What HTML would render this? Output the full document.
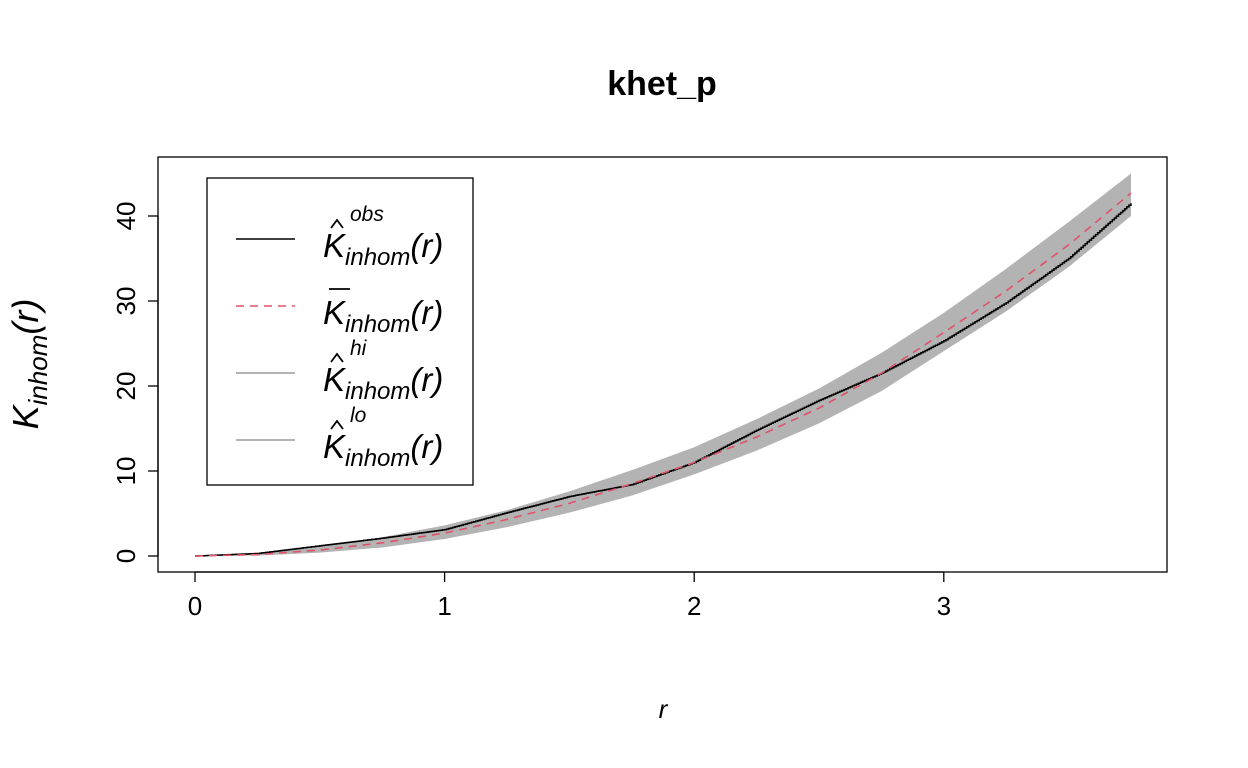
<!DOCTYPE html>
<html><head><meta charset="utf-8"><style>
body{margin:0;background:#fff;}
svg{display:block;font-family:"Liberation Sans",Arial,sans-serif;}
</style></head><body>
<svg id="chart" width="1248" height="768">
<text x="662" y="95" text-anchor="middle" font-size="34" font-weight="bold">khet_p</text>
<g id="plot"></g>
<rect x="158" y="157" width="1009" height="415" fill="none" stroke="#000" stroke-width="1.3"/>
<g id="axes"></g>
<text x="663" y="718" font-size="26" font-style="italic" text-anchor="middle">r</text>
<g transform="translate(38,364) rotate(-90)">
<text x="0" y="0" text-anchor="middle" font-size="36" font-style="italic">K<tspan font-size="26" dy="9">inhom</tspan><tspan dy="-9">(r)</tspan></text>
</g>
<g>
<rect x="207" y="178" width="266" height="307" fill="#fff" stroke="#000" stroke-width="1.3"/>
<line x1="236" y1="239" x2="295" y2="239" stroke="#000" stroke-width="1.5"/>
<line x1="236" y1="306" x2="295" y2="306" stroke="#DF536B" stroke-width="1.5" stroke-dasharray="8,6"/>
<line x1="236" y1="373" x2="295" y2="373" stroke="#b3b3b3" stroke-width="2"/>
<line x1="236" y1="440" x2="295" y2="440" stroke="#b3b3b3" stroke-width="2"/>
<g font-size="33" font-style="italic">
<text x="323" y="257">K<tspan font-size="24" dy="8">inhom</tspan><tspan dy="-8">(r)</tspan></text>
<text x="350" y="221" font-size="21">obs</text>
<polyline points="331,228 337,220 343,228" fill="none" stroke="#000" stroke-width="1.8"/>
<text x="323" y="324">K<tspan font-size="24" dy="8">inhom</tspan><tspan dy="-8">(r)</tspan></text>
<line x1="329" y1="289" x2="350" y2="289" stroke="#000" stroke-width="1.8"/>
<text x="323" y="391">K<tspan font-size="24" dy="8">inhom</tspan><tspan dy="-8">(r)</tspan></text>
<text x="350" y="355" font-size="21">hi</text>
<polyline points="331,362 337,354 343,362" fill="none" stroke="#000" stroke-width="1.8"/>
<text x="323" y="458">K<tspan font-size="24" dy="8">inhom</tspan><tspan dy="-8">(r)</tspan></text>
<text x="350" y="422" font-size="21">lo</text>
<polyline points="331,429 337,421 343,429" fill="none" stroke="#000" stroke-width="1.8"/>
</g>
</g>
</svg>
<script>
const rVals=[0,0.25,0.5,0.75,1,1.25,1.5,1.75,2,2.25,2.5,2.75,3,3.25,3.5,3.75];
const theoVals=[0,0.17,0.7,1.55,2.7,4.3,6.2,8.5,11.0,14.0,17.4,21.5,26.3,31.2,36.6,42.7];
const obsVals=[0,0.3,1.2,2.1,3.1,5.1,7.0,8.4,11.0,14.8,18.3,21.5,25.3,29.8,35.0,41.5];
const hiVals=[0,0.35,1.1,2.2,3.6,5.4,7.6,10.1,12.8,16.1,19.7,23.9,28.6,33.8,39.3,45.0];
const loVals=[0,0.05,0.4,1.0,2.0,3.4,5.1,7.1,9.6,12.4,15.6,19.4,24.1,28.8,34.0,40.0];
const xTicks=[0,1,2,3];
const yTicks=[0,10,20,30,40];
const NS="http://www.w3.org/2000/svg";
function sx(v){return 195+v*249.6;}
function sy(v){return 556-v*8.5;}
const plot=document.getElementById('plot'), axes=document.getElementById('axes');
function mk(tag,attrs,parent){const e=document.createElementNS(NS,tag);for(const k in attrs)e.setAttribute(k,attrs[k]);parent.appendChild(e);return e;}
let d=rVals.map((r,i)=>(i?'L':'M')+sx(r)+','+sy(hiVals[i])).join('');
for(let i=rVals.length-1;i>=0;i--)d+='L'+sx(rVals[i])+','+sy(loVals[i]);
const band=mk('path',{d:d+'Z',fill:'#b3b3b3'},plot);


let od='';
rVals.forEach((r,i)=>{if(i===0){od='M'+sx(r)+','+sy(obsVals[i]);return;}
 const r0=rVals[i-1],v0=obsVals[i-1],v1=obsVals[i];
 const n=30;
 for(let k=1;k<=n;k++){const rr=r0+(r-r0)*k/n;const vv=v0+(v1-v0)*k/n;od+='H'+sx(rr).toFixed(1)+'V'+sy(vv).toFixed(1);}});
const obs=mk('path',{d:od,fill:'none',stroke:'#000','stroke-width':1.5},plot);


const th=mk('polyline',{points:rVals.map((r,i)=>sx(r)+','+sy(theoVals[i])).join(' '),fill:'none',stroke:'#DF536B','stroke-width':1.6,'stroke-dasharray':'8,6'},plot);


mk('line',{x1:sx(0),x2:sx(3),y1:572,y2:572,stroke:'#000','stroke-width':1.3},axes);
xTicks.forEach(t=>{mk('line',{x1:sx(t),x2:sx(t),y1:572,y2:582,stroke:'#000','stroke-width':1.3},axes);
 const tx=mk('text',{x:sx(t),y:615,'font-size':26,'text-anchor':'middle'},axes);tx.textContent=t;
 
 });
mk('line',{x1:158,x2:158,y1:sy(0),y2:sy(40),stroke:'#000','stroke-width':1.3},axes);
yTicks.forEach(t=>{mk('line',{x1:148,x2:158,y1:sy(t),y2:sy(t),stroke:'#000','stroke-width':1.3},axes);
 const tx=mk('text',{x:0,y:0,'font-size':26,'text-anchor':'middle',transform:'translate(135,'+sy(t)+') rotate(-90)'},axes);tx.textContent=t;
 
 });
</script>
</body></html>
